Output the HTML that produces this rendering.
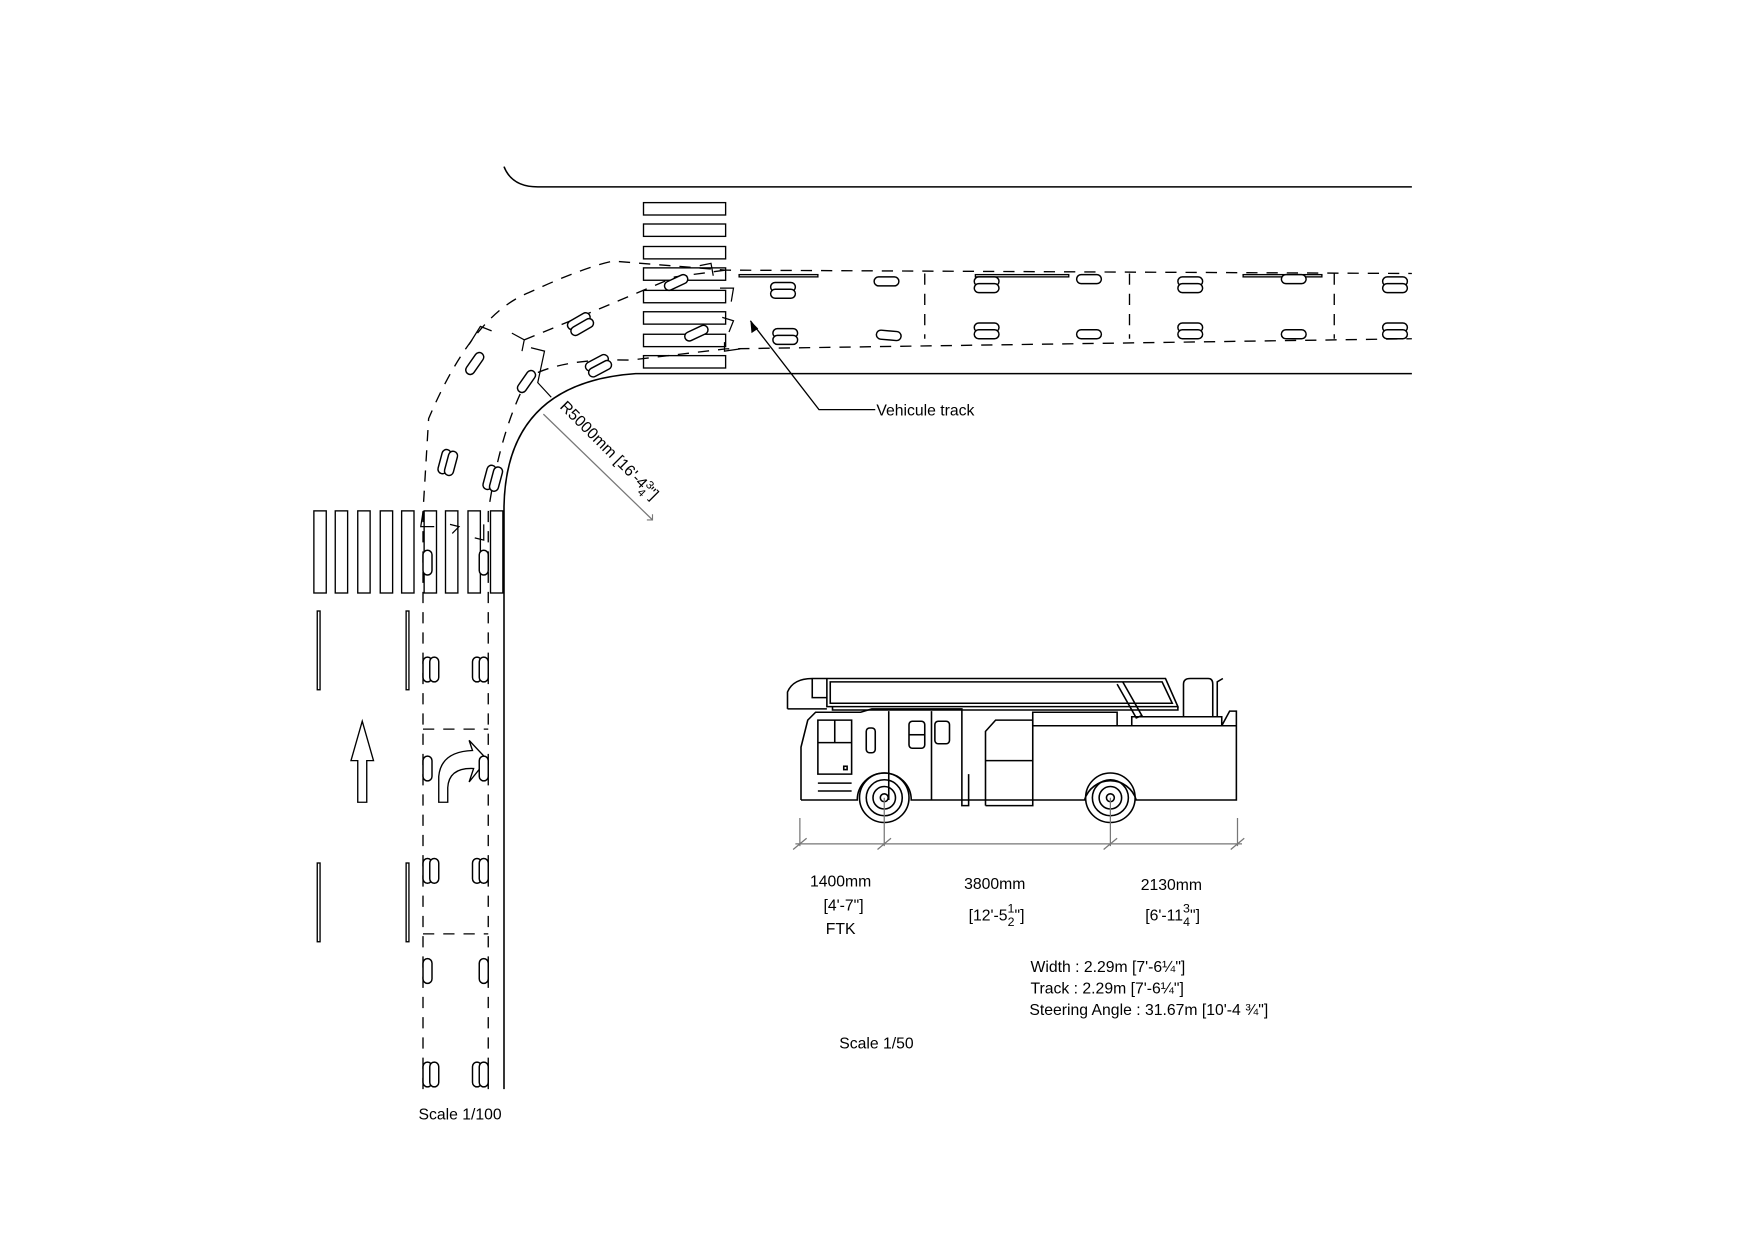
<!DOCTYPE html>
<html><head><meta charset="utf-8"><style>
html,body{margin:0;padding:0;background:#fff;}
svg{display:block;}
text{font-family:"Liberation Sans",Arial,sans-serif;fill:#000;}
</style></head><body>
<svg width="1755" height="1240" viewBox="0 0 1560 1102" xmlns="http://www.w3.org/2000/svg">
<defs>
<g id="t1"><rect x="-4" y="-11" width="8" height="22" rx="4" fill="#fff" stroke="#000" stroke-width="1.3"/></g>
<g id="t2"><rect x="-7" y="-11" width="8" height="22" rx="4" fill="#fff" stroke="#000" stroke-width="1.3"/><rect x="-1" y="-11" width="8" height="22" rx="4" fill="#fff" stroke="#000" stroke-width="1.3"/></g>
</defs>
<g fill="none" stroke="#000" stroke-width="1.4">
<!-- roads -->
<path d="M448 148 Q455 166 478 166 L1255 166"/>
<path d="M1255 332 L565 332 Q450 340 448 450 L448 968"/>
</g>
<!-- crosswalk top -->
<g fill="#fff" stroke="#000" stroke-width="1.2">
<rect x="572" y="180" width="73" height="11"/><rect x="572" y="199" width="73" height="11"/>
<rect x="572" y="219" width="73" height="11"/><rect x="572" y="238" width="73" height="11"/>
<rect x="572" y="258" width="73" height="11"/><rect x="572" y="277" width="73" height="11"/>
<rect x="572" y="297" width="73" height="11"/><rect x="572" y="316" width="73" height="11"/>
<!-- crosswalk left -->
<rect x="279" y="454" width="11" height="73"/><rect x="298" y="454" width="11" height="73"/>
<rect x="318" y="454" width="11" height="73"/><rect x="338" y="454" width="11" height="73"/>
<rect x="357" y="454" width="11" height="73"/><rect x="377" y="454" width="11" height="73"/>
<rect x="396" y="454" width="11" height="73"/><rect x="416" y="454" width="11" height="73"/>
<rect x="436" y="454" width="11" height="73"/>
<!-- lane lines -->
<rect x="282" y="543" width="2.5" height="70"/><rect x="361" y="543" width="2.5" height="70"/>
<rect x="282" y="767" width="2.5" height="70"/><rect x="361" y="767" width="2.5" height="70"/>
<rect x="657" y="244" width="70" height="2"/><rect x="867" y="244" width="83" height="2"/><rect x="1105" y="244" width="70" height="2"/>
<!-- arrows -->
<path d="M318 713 L318 676 L312 676 L322 641 L332 676 L326 676 L326 713 Z"/>
<path d="M390 713 L390 690 Q392 668 420 667 L417 658 L433 675 L417 695 L421 683 Q399 682 398 700 L398 713 Z"/>
</g>
<!-- dashed tracks -->
<g fill="none" stroke="#000" stroke-width="1.2" stroke-dasharray="10,8">
<path d="M376 968 L376 455 L381 372 Q420 280 470 260 Q520 237 545 232 L645 240 L1255 243"/>
<path d="M434 968 L434 455 Q445 380 470 335 Q500 318 560 320 L645 310 L1255 301"/>
<path d="M466 302 Q520 280 600 246 L645 240"/>
<path d="M376 648 L434 648 M376 830 L434 830"/>
<path d="M822 243 L822 301 M1004 243 L1004 301 M1186 243 L1186 301"/>
</g>
<g fill="none" stroke="#000" stroke-width="1.1">
<path d="M417 306 L427 290 L437 294 M455 296 L466 302 L464 312 M472 309 L484 312 L478 340 L490 353 M622 236 L632 234 L634 245 M640 256 L652 256 L650 268 M642 282 L652 285 L648 295 M644 304 L644 312 L658 310 M376 455 L374 468 L386 468 M400 466 L408 468 L402 474 M430 466 L430 480 L422 478"/>
</g>
<!-- tires -->
<use href="#t2" x="383" y="595"/><use href="#t2" x="427" y="595"/>
<use href="#t1" x="380" y="500"/><use href="#t1" x="430" y="500"/>
<use href="#t1" x="380" y="683"/><use href="#t1" x="430" y="683"/>
<use href="#t2" x="383" y="774"/><use href="#t2" x="427" y="774"/>
<use href="#t1" x="380" y="863"/><use href="#t1" x="430" y="863"/>
<use href="#t2" x="383" y="955"/><use href="#t2" x="427" y="955"/>
<g transform="translate(696,258) rotate(90)"><use href="#t2"/></g>
<g transform="translate(698,299) rotate(90)"><use href="#t2"/></g>
<g transform="translate(788,250) rotate(90)"><use href="#t1"/></g>
<g transform="translate(790,298) rotate(95)"><use href="#t1"/></g>
<g transform="translate(877,253) rotate(90)"><use href="#t2"/></g>
<g transform="translate(877,294) rotate(90)"><use href="#t2"/></g>
<g transform="translate(968,248) rotate(90)"><use href="#t1"/></g>
<g transform="translate(968,297) rotate(90)"><use href="#t1"/></g>
<g transform="translate(1058,253) rotate(90)"><use href="#t2"/></g>
<g transform="translate(1058,294) rotate(90)"><use href="#t2"/></g>
<g transform="translate(1150,248) rotate(90)"><use href="#t1"/></g>
<g transform="translate(1150,297) rotate(90)"><use href="#t1"/></g>
<g transform="translate(1240,253) rotate(90)"><use href="#t2"/></g>
<g transform="translate(1240,294) rotate(90)"><use href="#t2"/></g>
<g transform="translate(601,251) rotate(65)"><use href="#t1"/></g>
<g transform="translate(619,296) rotate(65)"><use href="#t1"/></g>
<g transform="translate(516,288) rotate(60)"><use href="#t2"/></g>
<g transform="translate(532,325) rotate(62)"><use href="#t2"/></g>
<g transform="translate(422,323) rotate(35)"><use href="#t1"/></g>
<g transform="translate(468,339) rotate(35)"><use href="#t1"/></g>
<g transform="translate(398,411) rotate(15)"><use href="#t2"/></g>
<g transform="translate(438,425) rotate(15)"><use href="#t2"/></g>
<!-- leader -->
<path d="M667 285 L728 364 L778 364" fill="none" stroke="#000" stroke-width="1.2"/>
<path d="M667 285 L668 296 L674 292 Z" fill="#000"/>
<text x="779" y="369" font-size="14">Vehicule track</text>
<!-- radius dim -->
<path d="M483 368 L580 462" stroke="#777" stroke-width="1.1"/>
<path d="M575 462 L580 462 L580 457" fill="none" stroke="#777"/>
<text x="497" y="362" font-size="14" transform="rotate(45 497 362)">R5000mm [16'-4<tspan font-size="10" dy="-5">3</tspan><tspan font-size="10" dx="-6" dy="10">4</tspan><tspan dy="-5">"]</tspan></text>
<!-- truck -->
<g fill="none" stroke="#000" stroke-width="1.4">
<path d="M712 711 L712 664 L718 640 L725 633 L765 633 L775 630 L855 630 L855 716 L861 716 L861 688 M876 716 L876 650 L885 640 L918 640 L918 716 L876 716 M876 676 L918 676 M918 716 L918 645 L1006 645 L1006 637 L1086 637 L1086 645 L1093 632 L1099 632 L1099 711 L1010 711 A24 24 0 0 0 964 711 L810 711 A24 24 0 0 0 762 711 L712 711"/>
<path d="M918 645 L1099 645 M918 645 L918 633 L993 633 L993 645"/>
<path d="M727 640 L757 640 L757 688 L727 688 Z M742 640 L742 660 M727 660 L757 660 M727 696 L757 696 M727 703 L757 703"/>
<rect x="750" y="681" width="3" height="3"/>
<rect x="770" y="647" width="8" height="22" rx="3"/>
<rect x="808" y="641" width="14" height="24" rx="3"/><path d="M808 653 L822 653"/>
<rect x="831" y="641" width="13" height="20" rx="3"/>
<path d="M790 632 L790 711 M828 632 L828 711"/>
<path d="M700 630 L700 615 Q705 603 722 603 L1036 603 L1047 628 L735 628 L735 603 M722 603 L722 620 L735 620 M738 606 L1033 606 L1042 625 L738 625 Z M740 628 L740 631 L1047 631 L1047 628 M700 630 L735 630"/>
<path d="M993 608 L1010 638 L1015 636 L998 606"/>
<path d="M1052 637 L1052 608 Q1052 603 1058 603 L1074 603 Q1078 603 1078 608 L1078 637 M1082 637 L1082 606 L1087 603"/>
<circle cx="786" cy="709" r="22"/><circle cx="786" cy="709" r="16"/><circle cx="786" cy="709" r="10"/><circle cx="786" cy="709" r="3.5"/>
<circle cx="987" cy="709" r="22"/><circle cx="987" cy="709" r="16"/><circle cx="987" cy="709" r="10"/><circle cx="987" cy="709" r="3.5"/>
</g>
<g stroke="#777" stroke-width="1.1" fill="none">
<path d="M711 727 L711 752 M786 709 L786 752 M987 709 L987 752 M1100 727 L1100 752 M707 750 L1104 750"/>
<path d="M705 755 L717 745 M780 755 L792 745 M981 755 L993 745 M1094 755 L1106 745"/>
</g>
<g font-size="14">
<text x="720" y="788">1400mm</text>
<text x="732" y="809">[4'-7"]</text>
<text x="734" y="830">FTK</text>
<text x="857" y="790">3800mm</text>
<text x="861" y="818">[12'-5<tspan font-size="11" dy="-7">1</tspan><tspan font-size="11" dx="-6" dy="12">2</tspan><tspan dy="-5">"]</tspan></text>
<text x="1014" y="791">2130mm</text>
<text x="1018" y="818">[6'-11<tspan font-size="11" dy="-7">3</tspan><tspan font-size="11" dx="-6" dy="12">4</tspan><tspan dy="-5">"]</tspan></text>
<text x="916" y="864">Width : 2.29m [7'-6¼"]</text>
<text x="916" y="883">Track : 2.29m [7'-6¼"]</text>
<text x="915" y="902">Steering Angle : 31.67m [10'-4 ¾"]</text>
<text x="746" y="932">Scale 1/50</text>
<text x="372" y="995">Scale 1/100</text>
</g>
</svg>
</body></html>
